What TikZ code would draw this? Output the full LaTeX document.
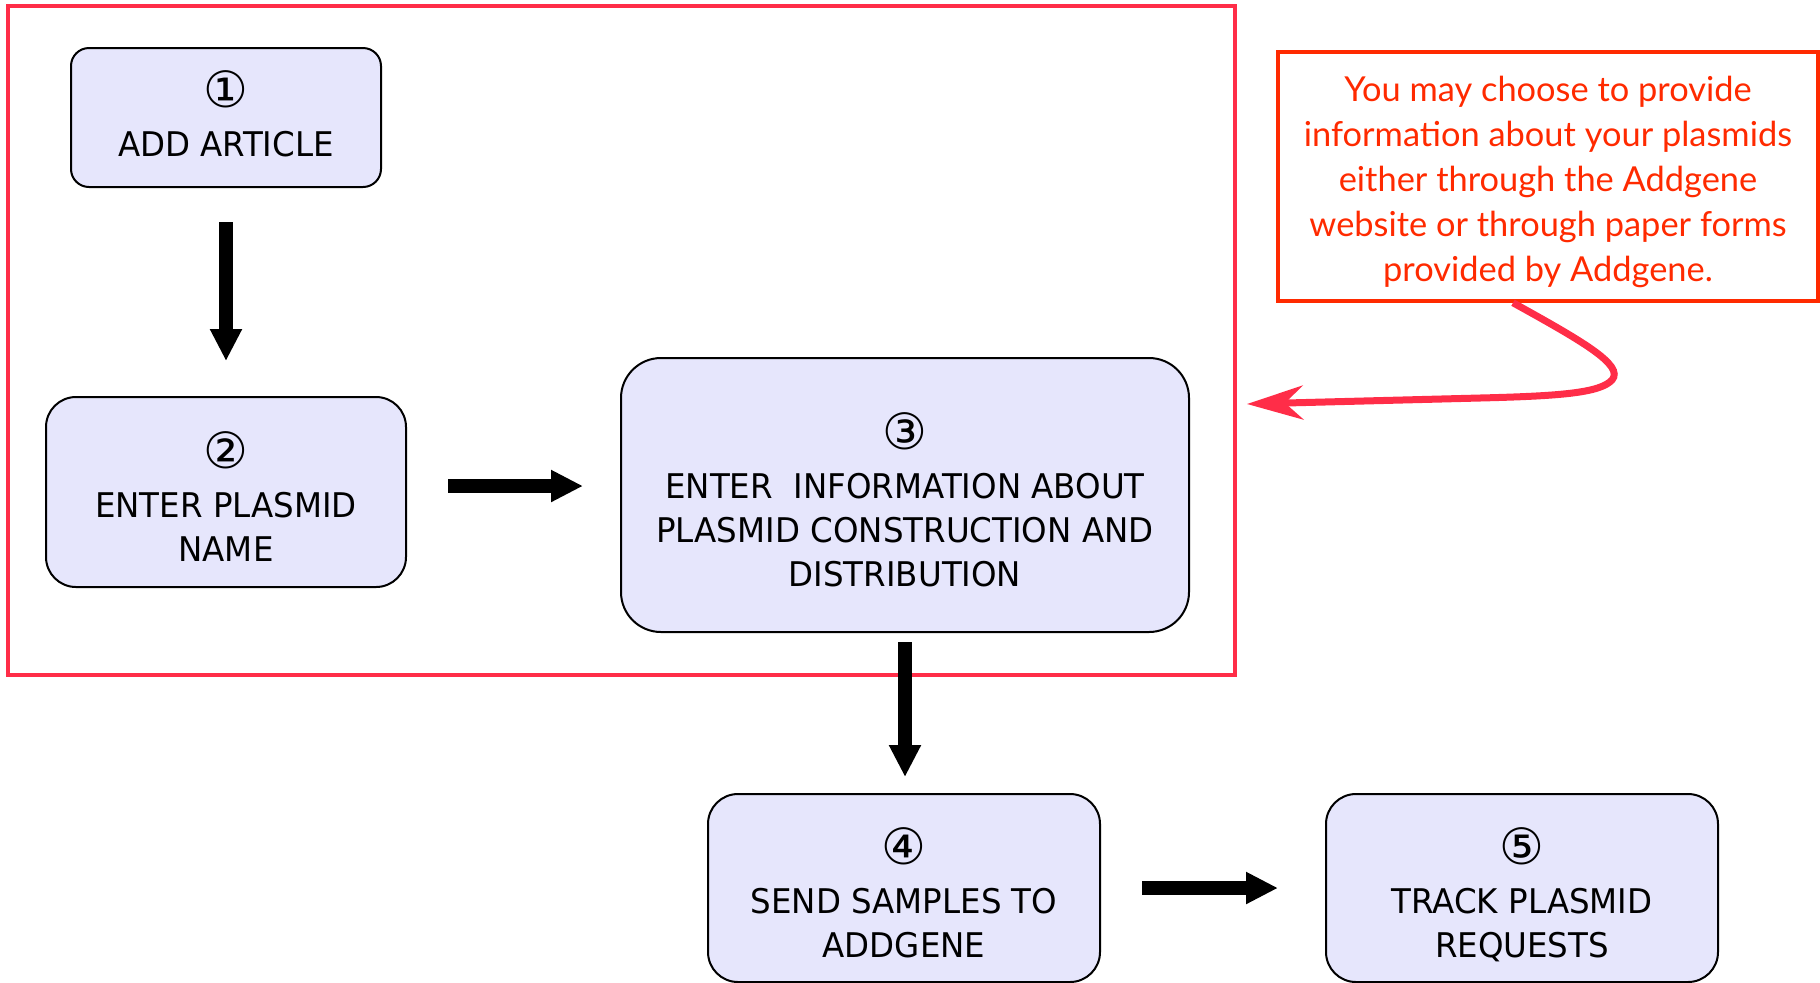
\documentclass[tikz,border=0pt]{standalone}
\usepackage{fontspec}
\usetikzlibrary{arrows.meta,calc}
\newfontfamily\boxfont[FakeStretch=0.955]{DejaVu Sans}
\newfontfamily\numfont{DejaVu Sans}
\newfontfamily\notefont{Lato}
\definecolor{boxfill}{RGB}{230,230,252}
\definecolor{framered}{RGB}{255,45,72}
\definecolor{notered}{RGB}{255,42,0}
\newcommand{\stepnum}[2][0pt]{{\numfont\fontsize{25}{22}\selectfont\raisebox{0pt}[\dimexpr\height+#1\relax]{#2}}\\[2.7pt]}
\begin{document}
\begin{tikzpicture}[x=0.5pt,y=-0.5pt,
  stepbox/.style={draw=black, line width=1pt, fill=boxfill, rounded corners=#1,
    inner sep=0pt, align=center, font=\boxfont\fontsize{17}{22}\selectfont},
  stepbox/.default=15pt,
  bigarrow/.style={line width=7pt, -{Triangle[length=16pt,width=15pt]}},
  notebox/.style={draw=notered, line width=1.75pt, inner sep=0pt},
  notetext/.style={inner sep=0pt, align=center,
    text=notered, font=\notefont\fontsize{17.2}{22.5}\selectfont},
  framebox/.style={draw=framered, line width=2pt, inner sep=0pt},
  notearrow/.style={draw=framered, line width=3.5pt,
    -{Stealth[length=28pt,width=17pt,inset=9pt]}}]
\useasboundingbox (0,0) rectangle (1820,982);
\node[framebox, minimum width=613.5pt, minimum height=334.5pt] (frame) at (621.5,340.5) {};
\node[stepbox=9pt, minimum width=155pt, minimum height=69.5pt] (b1) at (226,117.5)
  {\stepnum[-3.5pt]{①}ADD ARTICLE};
\node[stepbox=15pt, minimum width=180pt, minimum height=95pt] (b2) at (226,492)
  {\stepnum[4.6pt]{②}ENTER PLASMID\\NAME};
\node[stepbox=20pt, minimum width=284pt, minimum height=137pt] (b3) at (905,495)
  {\stepnum[4.6pt]{③}ENTER\ \ INFORMATION ABOUT\\PLASMID CONSTRUCTION AND\\DISTRIBUTION};
\node[stepbox=15pt, minimum width=196pt, minimum height=94pt] (b4) at (904,888)
  {\stepnum[5pt]{④}SEND SAMPLES TO\\ADDGENE};
\node[stepbox=15pt, minimum width=196pt, minimum height=94pt] (b5) at (1522,888)
  {\stepnum[7pt]{⑤}TRACK PLASMID\\REQUESTS};
\node[notebox, minimum width=270pt, minimum height=124.5pt] (note) at (1548,176.5) {};
\node[notetext] (notetxt) at ([yshift=-2.5pt]note.center)
  {You may choose to provide\\information about your plasmids\\either through the Addgene\\website or through paper forms\\provided by Addgene.};
\coordinate (tip) at (1247,404);
\draw[bigarrow, shorten <=17pt, shorten >=17.5pt] (b1.south) -- (b2.north);
\draw[bigarrow, shorten <=20.5pt, shorten >=18.5pt] ([yshift=3pt]b2.east) -- ([yshift=3pt]b2.east -| b3.west);
\draw[bigarrow, shorten <=4.5pt, shorten >=8pt] (b3.south) -- (b3.south |- b4.north);
\draw[bigarrow, shorten <=20.5pt, shorten >=23.5pt] (b4.east) -- (b5.west);
\draw[notearrow] ([xshift=-17.5pt]note.south) .. controls (1580,340) and (1625,365) .. (1612,380)
  .. controls (1600,393) and (1560,396) .. (1480,398) -- (tip);
\end{tikzpicture}
\end{document}
